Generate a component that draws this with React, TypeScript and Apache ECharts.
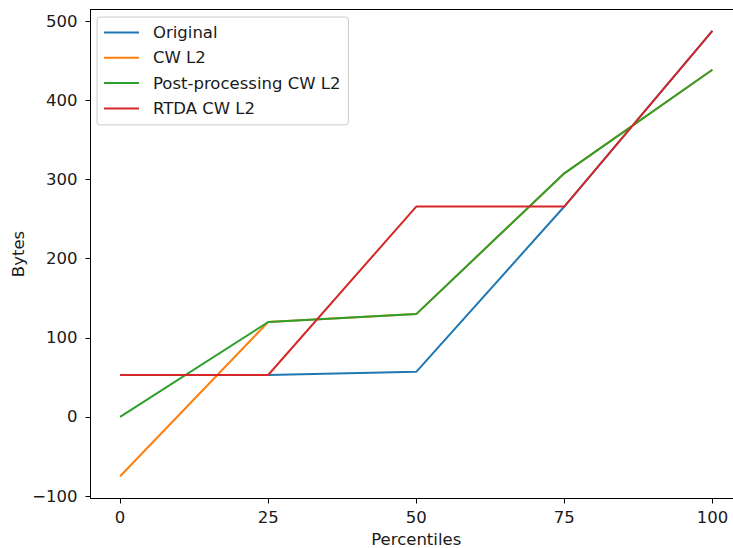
import React, { useEffect, useRef } from "react";
import * as echarts from "echarts";

const percentiles = [0, 25, 50, 75, 100];
const original = [53, 53, 57, 266, 488];
const cwL2 = [-75, 120, 130, 308, 439];
const postProcessing = [0, 120, 130, 308, 439];
const rtda = [53, 53, 266, 266, 488];
const xTicks = [0, 25, 50, 75, 100];
const yTicks = [-100, 0, 100, 200, 300, 400, 500];

const seriesDefs = [
  { name: "Original", values: original, color: "#1f77b4" },
  { name: "CW L2", values: cwL2, color: "#ff7f0e" },
  { name: "Post-processing CW L2", values: postProcessing, color: "#2ca02c" },
  { name: "RTDA CW L2", values: rtda, color: "#d62728" },
];

const FONT = "DejaVu Sans";
const FS = 16.5;
const TXT = "#1a1a1a";

export default function App() {
  const ref = useRef<HTMLDivElement>(null);
  useEffect(() => {
    if (!ref.current) return;
    const chart = echarts.init(ref.current, undefined, { renderer: "svg" });
    chart.setOption({
      animation: false,
      backgroundColor: "#fff",
      textStyle: { fontFamily: FONT },
      grid: {
        left: 90.5,
        top: 9.5,
        width: 651.5,
        height: 489,
        show: true,
        borderColor: "#000",
        borderWidth: 1,
        containLabel: false,
        outerBoundsMode: "none",
      },
      legend: {
        orient: "vertical",
        left: 97,
        top: 17,
        padding: [7, 8, 8, 7],
        itemGap: 8.3,
        itemWidth: 35,
        itemHeight: 16.5,
        icon: "path://M0,7.25 L35,7.25 L35,9.25 L0,9.25 Z",
        backgroundColor: "rgba(255,255,255,0.8)",
        borderColor: "#cccccc",
        borderWidth: 1,
        borderRadius: 3,
        textStyle: { fontFamily: FONT, fontSize: FS, color: TXT, padding: [0, 0, 0, 9] },
        data: seriesDefs.map((s) => ({ name: s.name, itemStyle: { color: s.color } })),
      },
      xAxis: {
        type: "value",
        min: -5,
        max: 105,
        splitLine: { show: false },
        axisLine: { show: true, onZero: false, lineStyle: { color: "#000", width: 1 } },
        axisTick: {
          show: true,
          length: 5,
          inside: false,
          customValues: xTicks,
          lineStyle: { color: "#000", width: 1 },
        },
        axisLabel: {
          customValues: xTicks,
          margin: 10,
          fontFamily: FONT,
          fontSize: FS,
          color: TXT,
        },
        name: "Percentiles",
        nameLocation: "middle",
        nameGap: 32,
        nameMoveOverlap: false,
        nameTextStyle: { fontFamily: FONT, fontSize: FS, color: TXT },
      },
      yAxis: {
        type: "value",
        min: -103.1,
        max: 515.1,
        splitLine: { show: false },
        axisLine: { show: true, onZero: false, lineStyle: { color: "#000", width: 1 } },
        axisTick: {
          show: true,
          length: 5,
          inside: false,
          customValues: yTicks,
          lineStyle: { color: "#000", width: 1 },
        },
        axisLabel: {
          customValues: yTicks,
          margin: 13,
          fontFamily: FONT,
          fontSize: FS,
          color: TXT,
          formatter: (v: number) => (v < 0 ? "\u2212" + Math.abs(v) : String(v)),
        },
        name: "Bytes",
        nameLocation: "middle",
        nameGap: 64,
        nameMoveOverlap: false,
        nameRotate: 90,
        nameTextStyle: { fontFamily: FONT, fontSize: FS, color: TXT },
      },
      series: seriesDefs.map((s) => ({
        type: "line",
        name: s.name,
        data: percentiles.map((p, i) => [p, s.values[i]]),
        showSymbol: false,
        symbol: "none",
        lineStyle: { color: s.color, width: 2 },
        itemStyle: { color: s.color },
        emphasis: { disabled: true },
      })),
    });
    return () => chart.dispose();
  }, []);
  return (
    <div style={{ position: "fixed", left: 0, top: 0, width: 733, height: 548, overflow: "hidden", background: "#fff" }}>
      <div ref={ref} style={{ width: 760, height: 548 }} />
    </div>
  );
}
